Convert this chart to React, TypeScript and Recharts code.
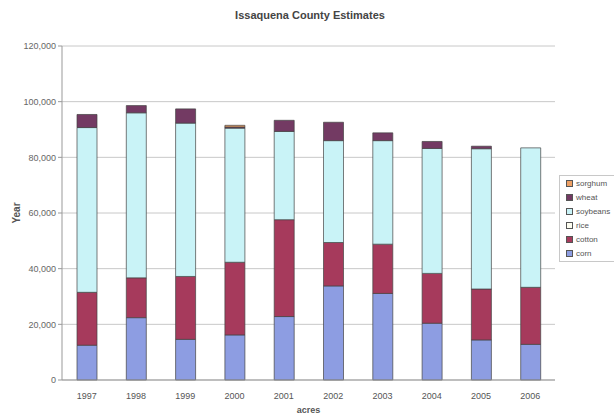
import React from "react";
import { BarChart, Bar, XAxis, YAxis, CartesianGrid } from "recharts";

const years = ["1997", "1998", "1999", "2000", "2001", "2002", "2003", "2004", "2005", "2006"];
const corn = [12500, 22400, 14600, 16200, 22800, 33800, 31100, 20400, 14400, 12800];
const cotton = [19000, 14300, 22600, 26100, 34800, 15600, 17700, 17900, 18300, 20500];
const rice = [0, 0, 0, 0, 0, 0, 0, 0, 0, 0];
const soybeans = [59200, 59300, 55100, 48200, 31700, 36600, 37200, 44900, 50400, 50100];
const wheat = [4700, 2600, 5100, 400, 4000, 6600, 2800, 2500, 900, 0];
const sorghum = [0, 0, 0, 600, 0, 0, 0, 0, 0, 0];
const yTicks = [0, 20000, 40000, 60000, 80000, 100000, 120000];

const series = [
  { key: "corn", values: corn, color: "#8d9de2" },
  { key: "cotton", values: cotton, color: "#a63a5c" },
  { key: "rice", values: rice, color: "#fdfdf0" },
  { key: "soybeans", values: soybeans, color: "#c9f3f7" },
  { key: "wheat", values: wheat, color: "#733a63" },
  { key: "sorghum", values: sorghum, color: "#eea064" },
];

const data = years.map((y, i) => {
  const row: any = { year: y };
  series.forEach((s) => (row[s.key] = s.values[i]));
  return row;
});

const FONT = "'Liberation Sans', Arial, sans-serif";
const fmt = (v: number) => v.toLocaleString("en-US");

const LegendBox = () => (
  <div
    style={{
      position: "absolute",
      left: 559,
      top: 175,
      width: 55,
      border: "1px solid #c8c8c8",
      borderRight: "none",
      background: "#fff",
      padding: "0 0 1px 6px",
      fontFamily: FONT,
      fontSize: 8,
      color: "#555",
      boxSizing: "border-box",
    }}
  >
    {[...series].reverse().map((s) => (
      <div key={s.key} style={{ display: "flex", alignItems: "center", height: 14, whiteSpace: "nowrap" }}>
        <span
          style={{
            display: "inline-block",
            flexShrink: 0,
            width: 5,
            height: 5,
            background: s.color,
            border: "1px solid #555",
            marginRight: 3,
          }}
        />
        <span>{s.key}</span>
      </div>
    ))}
  </div>
);

export default function App() {
  return (
    <div style={{ position: "absolute", left: 0, top: 0, width: 614, height: 418, background: "#fff" }}>
      <div
        style={{
          position: "absolute",
          top: 9,
          left: 0,
          width: 620,
          textAlign: "center",
          fontFamily: FONT,
          fontSize: 11,
          fontWeight: "bold",
          color: "#444",
        }}
      >
        Issaquena County Estimates
      </div>
      <BarChart
        width={614}
        height={418}
        data={data}
        margin={{ top: 46, right: 59, bottom: 8, left: 12 }}
        barSize={20}
      >
        <CartesianGrid vertical={false} stroke="#c8c8c8" />
        <XAxis
          dataKey="year"
          height={30}
          tick={{ fontSize: 9, fill: "#555", fontFamily: FONT }}
          tickLine={false}
          axisLine={{ stroke: "#999" }}
          tickMargin={7}
          label={{
            value: "acres",
            position: "insideBottom",
            offset: -3,
            style: { fontSize: 9, fontWeight: "bold", fill: "#555", fontFamily: FONT },
          }}
        />
        <YAxis
          width={50}
          domain={[0, 120000]}
          ticks={yTicks}
          tickFormatter={fmt}
          interval={0}
          tick={{ fontSize: 9, fill: "#666", fontFamily: FONT }}
          tickSize={4}
          tickMargin={2}
          tickLine={{ stroke: "#999" }}
          axisLine={{ stroke: "#999" }}
          label={{
            value: "Year",
            angle: -90,
            position: "insideLeft",
            offset: 4,
            style: { fontSize: 10, fontWeight: "bold", fill: "#555", fontFamily: FONT, textAnchor: "middle" },
          }}
        />
        <YAxis
          yAxisId="right"
          orientation="right"
          width={0}
          tick={false}
          tickLine={false}
          axisLine={{ stroke: "#d0d0d0" }}
        />
        {series.map((s) => (
          <Bar
            key={s.key}
            dataKey={s.key}
            stackId="a"
            fill={s.color}
            stroke="#444"
            strokeWidth={0.7}
            isAnimationActive={false}
          />
        ))}
      </BarChart>
      <LegendBox />
    </div>
  );
}
